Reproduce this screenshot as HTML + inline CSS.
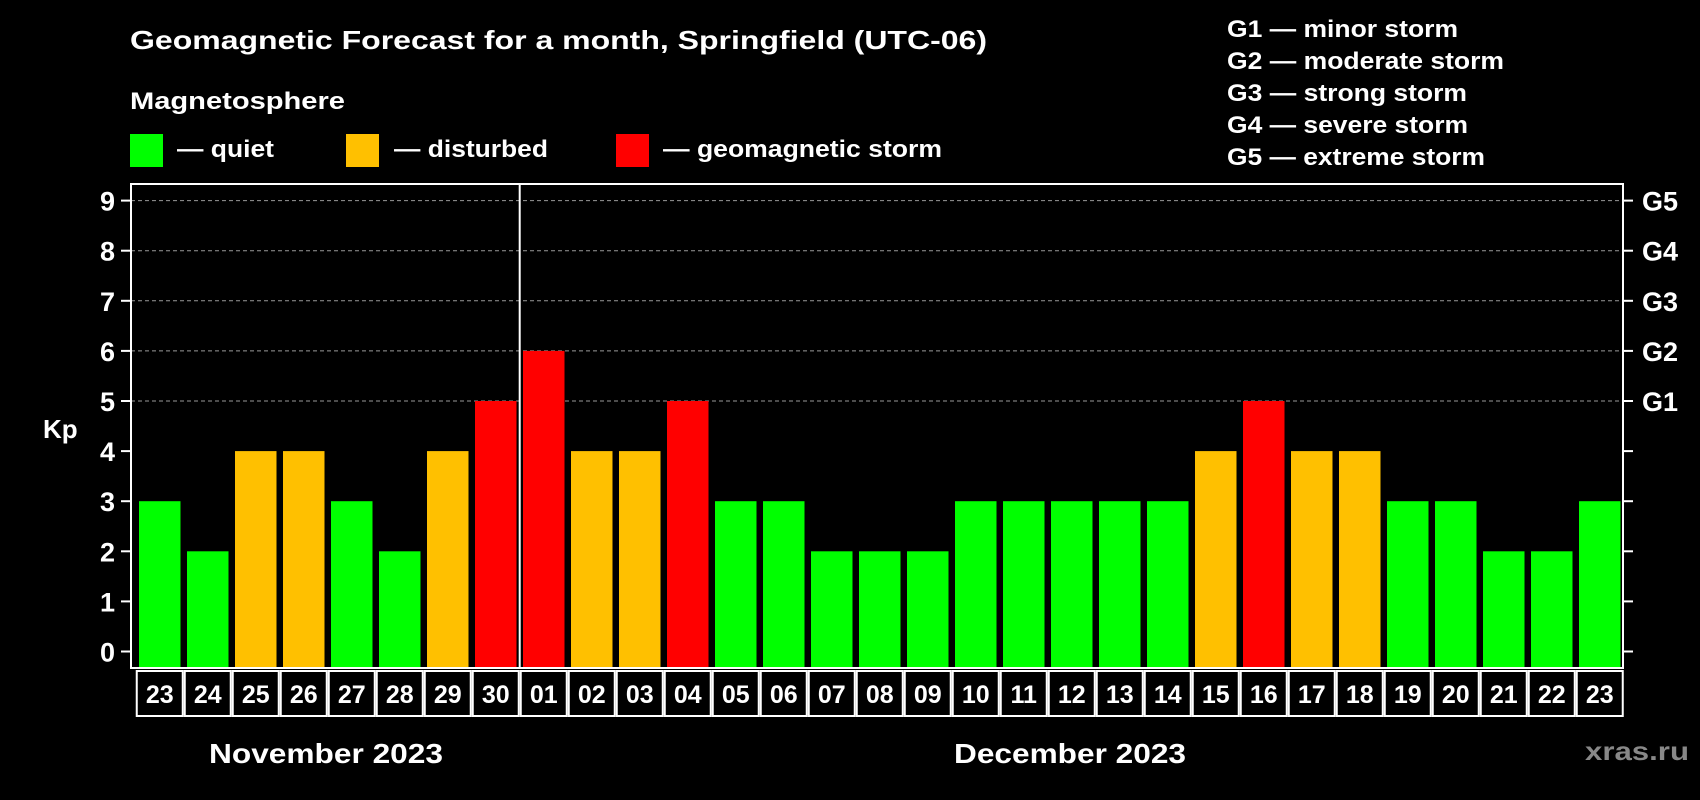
<!DOCTYPE html>
<html><head><meta charset="utf-8"><style>
html,body{margin:0;padding:0;background:#000;}
svg{display:block;font-family:"Liberation Sans",sans-serif;font-weight:bold;}
</style></head><body>
<svg id="chart" width="1700" height="800" viewBox="0 0 1700 800">
<rect x="0" y="0" width="1700" height="800" fill="#000"/>
<text x="130" y="49" fill="#fff" font-size="26" textLength="857" lengthAdjust="spacingAndGlyphs">Geomagnetic Forecast for a month, Springfield (UTC-06)</text>
<text x="130" y="109" fill="#fff" font-size="24" textLength="215" lengthAdjust="spacingAndGlyphs">Magnetosphere</text>
<g>
<rect x="130" y="134" width="33" height="33" fill="#00ff00"/>
<text x="177" y="157" fill="#fff" font-size="24" textLength="97" lengthAdjust="spacingAndGlyphs">— quiet</text></g>
<g>
<rect x="346" y="134" width="33" height="33" fill="#ffc000"/>
<text x="394" y="157" fill="#fff" font-size="24" textLength="154" lengthAdjust="spacingAndGlyphs">— disturbed</text></g>
<g>
<rect x="616" y="134" width="33" height="33" fill="#ff0000"/>
<text x="663" y="157" fill="#fff" font-size="24" textLength="279" lengthAdjust="spacingAndGlyphs">— geomagnetic storm</text></g>
<g fill="#fff" font-size="24">
<text x="1227" y="37" textLength="231" lengthAdjust="spacingAndGlyphs">G1 — minor storm</text>
<text x="1227" y="69" textLength="277" lengthAdjust="spacingAndGlyphs">G2 — moderate storm</text>
<text x="1227" y="101" textLength="240" lengthAdjust="spacingAndGlyphs">G3 — strong storm</text>
<text x="1227" y="133" textLength="241" lengthAdjust="spacingAndGlyphs">G4 — severe storm</text>
<text x="1227" y="165" textLength="258" lengthAdjust="spacingAndGlyphs">G5 — extreme storm</text>
</g>
<text x="43" y="438" fill="#fff" font-size="26">Kp</text>
<text x="1585" y="760" fill="#888" font-size="26" textLength="104" lengthAdjust="spacingAndGlyphs">xras.ru</text>
<g id="grid"></g>
<g id="bars"></g>
<g id="axes"></g>
<g id="dates"></g>
<text x="326" y="763" fill="#fff" font-size="28" text-anchor="middle" textLength="234" lengthAdjust="spacingAndGlyphs">November 2023</text>
<text x="1070" y="763" fill="#fff" font-size="28" text-anchor="middle" textLength="232" lengthAdjust="spacingAndGlyphs">December 2023</text>
</svg>
<script>
const days = ["23","24","25","26","27","28","29","30","01","02","03","04","05","06","07","08","09","10","11","12","13","14","15","16","17","18","19","20","21","22","23"];
const kpValues = [3,2,4,4,3,2,4,5,6,4,4,5,3,3,2,2,2,3,3,3,3,3,4,5,4,4,3,3,2,2,3];
const yTicks = [0,1,2,3,4,5,6,7,8,9];
const gLevels = [5,6,7,8,9];
const gLabels = ["G1","G2","G3","G4","G5"];
const monthBreakIndex = 8;

const NS = "http://www.w3.org/2000/svg";
const plotL = 131, plotR = 1623, plotT = 184, plotB = 668;
const y0 = 651.5, yUnit = 50.1;
const firstX = 139, pitch = 48.0, barW = 41.5;
function yScale(v){ return y0 - v * yUnit; }
function xScale(i){ return firstX + i * pitch; }
function mk(tag, attrs, parent){ const e = document.createElementNS(NS, tag); for (const k in attrs) e.setAttribute(k, attrs[k]); parent.appendChild(e); return e; }
function colorFor(v){ return v >= 5 ? "#ff0000" : (v >= 4 ? "#ffc000" : "#00ff00"); }

const grid = document.getElementById("grid"), bars = document.getElementById("bars"), axes = document.getElementById("axes"), dates = document.getElementById("dates");

gLevels.forEach(v => {
  const l = mk("line", {x1: plotL, x2: plotR, y1: yScale(v), y2: yScale(v), stroke: "#999", "stroke-width": 1, "stroke-dasharray": "4,3"}, grid);
  
  
});

kpValues.forEach((v, i) => {
  const r = mk("rect", {x: xScale(i), y: yScale(v), width: barW, height: plotB - 1 - yScale(v), fill: colorFor(v)}, bars);
  
  
});

const frame = mk("rect", {x: plotL, y: plotT, width: plotR - plotL, height: plotB - plotT, fill: "none", stroke: "#fff", "stroke-width": 2}, axes);


const sep = mk("line", {x1: xScale(monthBreakIndex) - 3.3, x2: xScale(monthBreakIndex) - 3.3, y1: plotT, y2: plotB, stroke: "#fff", "stroke-width": 2}, axes);



yTicks.forEach(v => {
  const t = mk("line", {x1: plotL - 10, x2: plotL, y1: yScale(v), y2: yScale(v), stroke: "#fff", "stroke-width": 2}, axes);
  
  
  const t2 = mk("line", {x1: plotR, x2: plotR + 10, y1: yScale(v), y2: yScale(v), stroke: "#fff", "stroke-width": 2}, axes);
  
  
  const tx = mk("text", {x: 115, y: yScale(v) + 10, fill: "#fff", "font-size": 27, "text-anchor": "end"}, axes);
  tx.textContent = v;
  
  
});

gLevels.forEach((v, i) => {
  const tx = mk("text", {x: 1642, y: yScale(v) + 10, fill: "#fff", "font-size": 27}, axes);
  tx.textContent = gLabels[i];
  
  
});

days.forEach((d, i) => {
  const cx = xScale(i) + barW / 2;
  const c = mk("rect", {x: cx - pitch / 2 + 1, y: 671, width: pitch - 2, height: 45, fill: "#000", stroke: "#fff", "stroke-width": 2}, dates);
  
  
  const tx = mk("text", {x: cx, y: 703, fill: "#fff", "font-size": 25, "text-anchor": "middle"}, dates);
  tx.textContent = d;
  
  
});
</script>
</body></html>
